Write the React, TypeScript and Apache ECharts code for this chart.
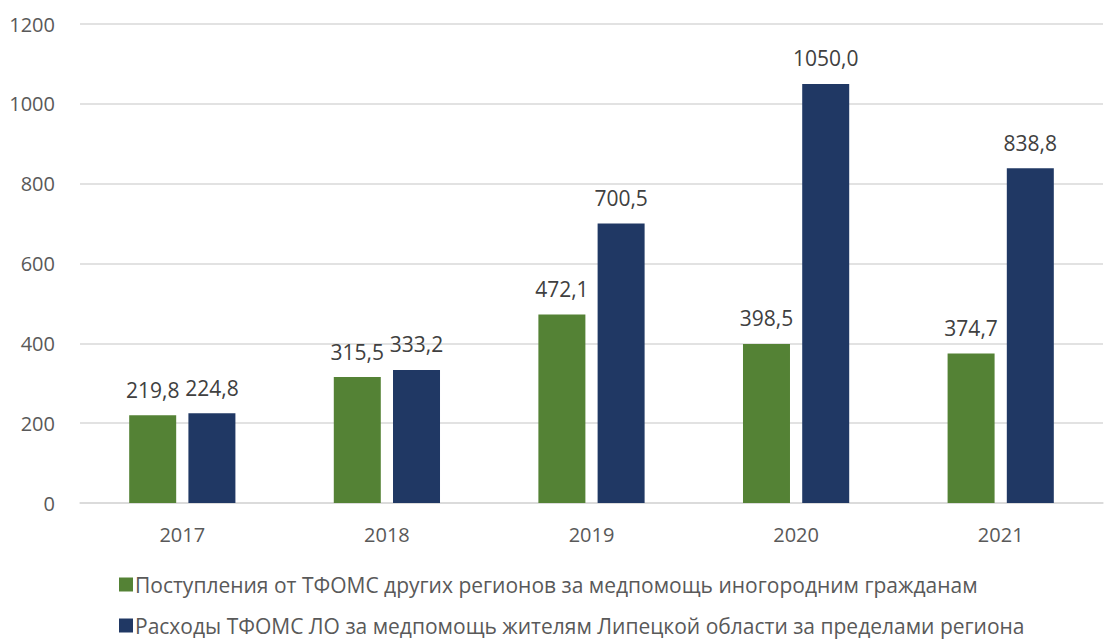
import React, { useEffect, useRef } from "react";
import * as echarts from "echarts";

const categories = ["2017", "2018", "2019", "2020", "2021"];
const incomeValues = [219.8, 315.5, 472.1, 398.5, 374.7];
const expenseValues = [224.8, 333.2, 700.5, 1050.0, 838.8];
const seriesNames = [
  "Поступления от ТФОМС других регионов за медпомощь иногородним гражданам",
  "Расходы ТФОМС ЛО за медпомощь жителям Липецкой области за пределами региона",
];

const FONT = "'Open Sans', 'Noto Sans', sans-serif";

export default function App() {
  const ref = useRef<HTMLDivElement>(null);
  useEffect(() => {
    const chart = echarts.init(ref.current!, null, { renderer: "svg" });
    const label = {
      show: true,
      position: "top",
      distance: 15,
      fontFamily: FONT,
      fontSize: 21,
      color: "#404040",
      formatter: (p: any) => p.value.toFixed(1).replace(".", ","),
    };
    const legendBase = {
      left: 114,
      itemWidth: 14,
      itemHeight: 14,
      icon: "rect",
      textStyle: {
        color: "#595959",
        fontSize: 21,
        lineHeight: 20,
        fontFamily: FONT,
        padding: [0, 0, 0, -3],
      },
    };
    chart.setOption({
      animation: false,
      backgroundColor: "#ffffff",
      textStyle: { fontFamily: FONT },
      grid: { left: 80, right: 2, top: 24, bottom: 141, containLabel: false },
      xAxis: {
        type: "category",
        data: categories,
        axisLine: { show: true, lineStyle: { color: "#d9d9d9", width: 1.5 } },
        axisTick: { show: false },
        axisLabel: { color: "#595959", fontSize: 20, fontFamily: FONT, margin: 21 },
      },
      yAxis: {
        type: "value",
        min: 0,
        max: 1200,
        interval: 200,
        axisLine: { show: false },
        axisTick: { show: false },
        splitLine: { lineStyle: { color: "#d9d9d9", width: 1.5 } },
        axisLabel: {
          color: "#595959",
          fontSize: 20,
          fontFamily: FONT,
          margin: 25,
          formatter: (v: number) => String(v),
        },
      },
      legend: [
        { ...legendBase, top: 569, data: [seriesNames[0]] },
        { ...legendBase, top: 610, data: [seriesNames[1]] },
      ],
      series: [
        {
          name: seriesNames[0],
          type: "bar",
          data: incomeValues,
          barWidth: 47,
          barGap: "26%",
          itemStyle: { color: "#548235" },
          label,
        },
        {
          name: seriesNames[1],
          type: "bar",
          data: expenseValues,
          barWidth: 47,
          itemStyle: { color: "#203864" },
          label,
        },
      ],
    });
    return () => chart.dispose();
  }, []);
  return (
    <div
      ref={ref}
      style={{ position: "absolute", left: 0, top: 0, width: 1105, height: 644 }}
    />
  );
}
